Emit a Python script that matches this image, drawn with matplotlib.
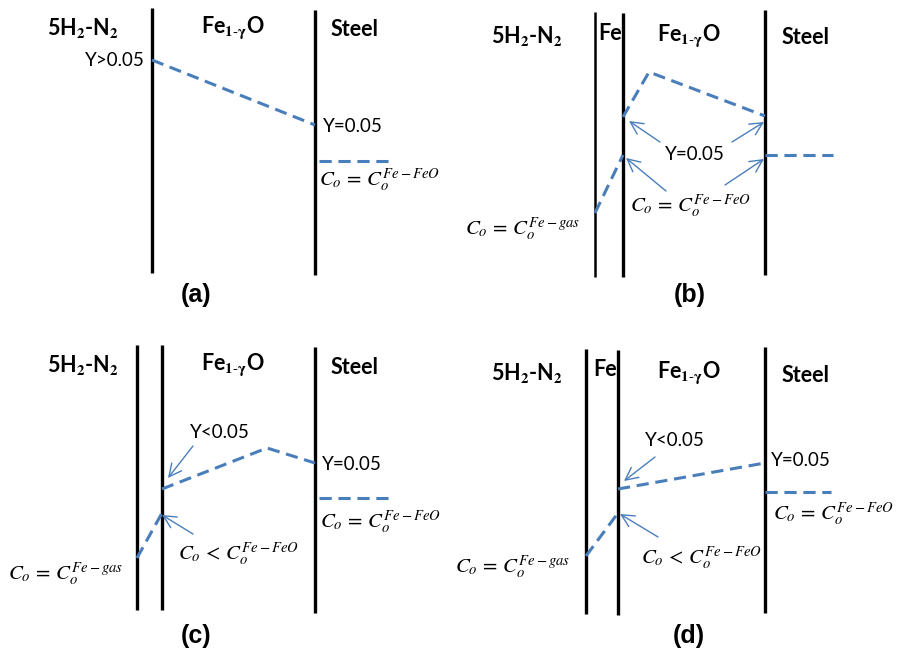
import matplotlib.pyplot as plt

plt.rcParams['mathtext.fontset'] = 'stix'

W, H = 898, 655
BLUE = '#4a7ebb'

# interface positions (x) and their vertical extent for each panel
interfaces = {
    'a': [(152, 8, 273), (315, 10, 275)],
    'b': [(595, 12, 277), (623, 13, 277), (765, 10, 275)],
    'c': [(137, 345, 610), (162, 345, 610), (315, 347, 613)],
    'd': [(586, 349, 614), (618, 350, 615), (765, 347, 613)],
}
iface_width = {'b': [1.8, 2.4, 2.4], 'd': [2.4, 2.4, 2.4]}

# oxygen / Y profiles (dashed segments)
profiles = {
    'a': [([152, 315], [60, 125]), ([319, 391], [161, 161])],
    'b': [([595, 623], [213, 155]), ([623, 649, 765], [117, 72, 116]),
          ([765, 833], [155, 155])],
    'c': [([137, 162], [558, 513]), ([162, 267, 315], [489, 448, 463]),
          ([319, 391], [498, 498])],
    'd': [([586, 618], [556, 513]), ([618, 765], [489, 463]),
          ([765, 831], [492, 492])],
}

# arrows: (tail, head)
arrows = [
    ((660, 142), (629, 121)), ((732, 142), (764, 122)),
    ((666, 191), (626, 158)), ((725, 185), (764, 159)),
    ((193, 446), (168, 478)), ((193, 534), (162, 515)),
    ((655, 457), (624, 481)), ((658, 537), (620, 514)),
]

# layer headings: (text, x, y)
gas = r'5H$_\mathbf{2}$-N$_\mathbf{2}$'
oxide = r'Fe$_\mathbf{1\text{-}\gamma}$O'
headings = [
    (gas, 83, 28), (oxide, 233, 28), ('Steel', 355, 30),
    (gas, 527, 36), ('Fe', 610, 33), (oxide, 689, 36), ('Steel', 806, 38),
    (gas, 83, 365), (oxide, 233, 365), ('Steel', 355, 368),
    (gas, 527, 373), ('Fe', 605, 370), (oxide, 689, 373), ('Steel', 806, 375),
]

# Y labels: (text, x, y, ha)
ylabels = [
    ('Y>0.05', 145, 60, 'right'), ('Y=0.05', 323, 126, 'left'),
    ('Y=0.05', 695, 155, 'center'),
    ('Y<0.05', 190, 432, 'left'), ('Y=0.05', 322, 465, 'left'),
    ('Y<0.05', 645, 440, 'left'), ('Y=0.05', 771, 460, 'left'),
]

eq_feo = r'$C_o\,=\,C_o^{Fe-FeO}$'
lt_feo = r'$C_o\,<\,C_o^{Fe-FeO}$'
eq_gas = r'$C_o\,=\,C_o^{Fe-gas}$'
mathlabels = [
    (eq_feo, 319, 180), (eq_feo, 630, 206), (eq_gas, 465, 229),
    (eq_feo, 320, 522), (lt_feo, 178, 554), (eq_gas, 8, 574),
    (eq_feo, 773, 514), (lt_feo, 641, 558), (eq_gas, 455, 567),
]

captions = [('(a)', 196, 295), ('(b)', 690, 295), ('(c)', 196, 636), ('(d)', 689, 636)]

fig = plt.figure(figsize=(W / 100, H / 100), dpi=100)
ax = fig.add_axes([0, 0, 1, 1])
ax.set_xlim(0, W)
ax.set_ylim(H, 0)
ax.axis('off')

for key, lines in interfaces.items():
    widths = iface_width.get(key, [2.4] * len(lines))
    for (x, y0, y1), lw in zip(lines, widths):
        ax.plot([x, x], [y0, y1], color='black', lw=lw, solid_capstyle='butt')

for key, segs in profiles.items():
    for xs, ys in segs:
        ax.plot(xs, ys, color=BLUE, lw=2.2, dashes=(4, 2.2))

for (tx, ty), (hx, hy) in arrows:
    ax.annotate('', xy=(hx, hy), xytext=(tx, ty),
                arrowprops=dict(arrowstyle='->,head_length=0.9,head_width=0.45',
                                color=BLUE, lw=1.0, shrinkA=0, shrinkB=0))

for txt, x, y in headings:
    ax.text(x, y, txt, fontsize=15.5, fontweight='bold', family='Lato',
            ha='center', va='center')

for txt, x, y, ha in ylabels:
    ax.text(x, y, txt, fontsize=13.5, family='Lato', ha=ha, va='center')

for txt, x, y in mathlabels:
    ax.text(x, y, txt, fontsize=15, ha='left', va='center')

for txt, x, y in captions:
    ax.text(x, y, txt, fontsize=18, fontweight='bold', family='Liberation Sans',
            ha='center', va='center')

fig.savefig('out.png', dpi=100)
